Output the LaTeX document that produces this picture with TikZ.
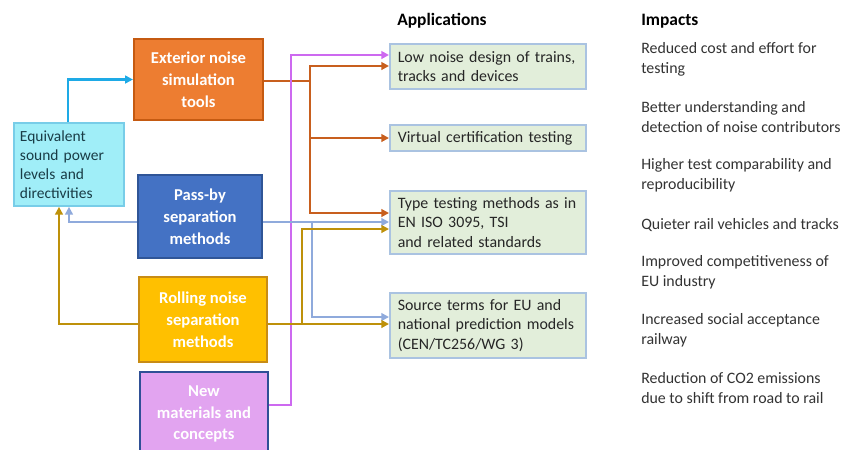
\documentclass[tikz,border=0pt]{standalone}
\usepackage{fontspec}
\setmainfont{Carlito}
\usepackage{xcolor}
\usepackage{tikz}
\usetikzlibrary{arrows.meta}

\definecolor{equivfill}{RGB}{160,238,248}
\definecolor{equivedge}{RGB}{120,205,232}
\definecolor{equivtext}{RGB}{25,60,70}
\definecolor{extfill}{RGB}{237,125,49}
\definecolor{extedge}{RGB}{197,90,17}
\definecolor{passfill}{RGB}{68,114,196}
\definecolor{passedge}{RGB}{47,85,151}
\definecolor{rollfill}{RGB}{255,192,0}
\definecolor{rolledge}{RGB}{200,140,20}
\definecolor{newfill}{RGB}{226,164,240}
\definecolor{newedge}{RGB}{47,80,150}
\definecolor{appfill}{RGB}{226,238,218}
\definecolor{appedge}{RGB}{170,195,225}
\definecolor{orangeline}{RGB}{200,95,30}
\definecolor{violetline}{RGB}{205,105,240}
\definecolor{blueline}{RGB}{143,170,220}
\definecolor{goldline}{RGB}{190,145,10}
\definecolor{cyanline}{RGB}{30,170,230}

\begin{document}
\begin{tikzpicture}[x=0.025cm, y=-0.025cm,
    srcbox/.style={line width=1.5pt, text=white, align=center, inner sep=0pt,
        font=\fontsize{11.8}{15.5}\selectfont\bfseries},
    appbox/.style={draw=appedge, fill=appfill, line width=1.1pt, anchor=west,
        minimum width=4.775cm, text width=4.5cm, inner xsep=0.2cm, inner ysep=0pt,
        align=left, text=black!85, font=\fontsize{11.3}{13.8}\selectfont},
    impact/.style={anchor=west, align=left, inner sep=0pt, text=black!80,
        font=\fontsize{11.3}{14}\selectfont},
    head/.style={anchor=west, inner sep=0pt, font=\fontsize{12.4}{14}\selectfont\bfseries},
    link/.style={line width=2.1pt, -{Triangle[length=5.5pt,width=5.5pt]}},
    trunkline/.style={line width=2.1pt}]

    \clip (0,0) rectangle (852,449);
    \fill[white] (0,0) rectangle (852,449);

    % sources
    \node (equiv) at (69,164.5)  [draw=equivedge, fill=equivfill, line width=1.2pt, minimum width=2.75cm, minimum height=2.075cm,
        text width=2.45cm, align=left, inner sep=0pt, text=equivtext, font=\fontsize{11}{13.5}\selectfont]
        {Equivalent\\sound power\\levels and\\directivities};
    \node (ext)   at (198.5,79.5) [srcbox, draw=extedge, fill=extfill, minimum width=3.225cm, minimum height=2.025cm]
        {Exterior noise\\simulation\\tools};
    \node (pass)  at (200,216.5)  [srcbox, draw=passedge, fill=passfill, minimum width=3.1cm, minimum height=2.075cm]
        {Pass-by\\separation\\methods};
    \node (roll)  at (203,319.5)  [srcbox, draw=rolledge, fill=rollfill, minimum width=3.2cm, minimum height=2.125cm]
        {Rolling noise\\separation\\methods};
    \node (newm)  at (204,414)    [srcbox, draw=newedge, fill=newfill, minimum width=3.2cm, minimum height=2.1cm]
        {New\\materials and\\concepts};

    % applications
    \node (apphead) at (397,21) [head] {Applications};
    \node (low)  at (389,66.5)  [appbox, minimum height=1.125cm] {Low noise design of trains,\\tracks and devices};
    \node (virt) at (389,138)   [appbox, minimum height=0.65cm]  {Virtual certification testing};
    \node (type) at (389,222.5) [appbox, minimum height=1.575cm] {Type testing methods as in\\EN ISO 3095, TSI\\and related standards};
    \node (src)  at (389,325.5) [appbox, minimum height=1.625cm] {Source terms for EU and\\national prediction models\\(CEN/TC256/WG 3)};

    % impacts
    \node (imphead) at (641,21) [head] {Impacts};
    \node (imp1) at (641,59.5) [impact] {Reduced cost and effort for\\testing};
    \node (imp2) at (641,117)  [impact] {Better understanding and\\detection of noise contributors};
    \node (imp3) at (641,175)  [impact] {Higher test comparability and\\reproducibility};
    \node (imp4) at (641,225)  [impact] {Quieter rail vehicles and tracks};
    \node (imp5) at (641,272)  [impact] {Improved competitiveness of\\EU industry};
    \node (imp6) at (641,330)  [impact] {Increased social acceptance\\railway};
    \node (imp7) at (641,388)  [impact] {Reduction of CO2 emissions\\due to shift from road to rail};

    % junctions
    \coordinate (otrunk) at (310,81);
    \coordinate (vtrunk) at (291,55);
    \coordinate (btrunk) at (312,222);
    \coordinate (gtrunk) at (302,324);

    % connectors
    \draw[link, cyanline]   (equiv.north -| 68,0) |- (ext.west);

    \draw[trunkline, orangeline] (ext.east |- otrunk) -- (otrunk);
    \draw[link, orangeline] (otrunk) |- (low.west |- 0,66);
    \draw[link, orangeline] (otrunk) |- (virt.west);
    \draw[link, orangeline] (otrunk) |- (type.west |- 0,213);

    \draw[link, violetline] (newm.east |- 0,405) -| (vtrunk) -- (low.west |- vtrunk);

    \draw[link, blueline]   (pass.east |- btrunk) -- (type.west |- btrunk);
    \draw[link, blueline]   (btrunk) |- (src.west |- 0,317);
    \draw[link, blueline]   (pass.west |- btrunk) -| (equiv.south);

    \draw[link, goldline]   (roll.east |- gtrunk) -- (src.west |- gtrunk);
    \draw[link, goldline]   (gtrunk) |- (type.west |- 0,229);
    \draw[link, goldline]   (roll.west |- gtrunk) -| (equiv.south -| 59,0);
\end{tikzpicture}
\end{document}
